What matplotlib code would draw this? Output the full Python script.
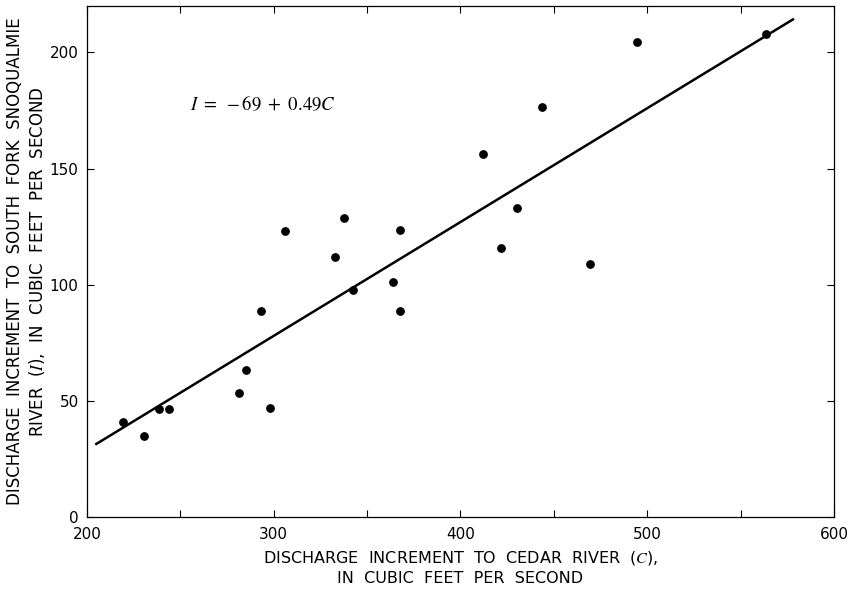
import matplotlib
matplotlib.use("Agg")
import matplotlib.pyplot as plt
import numpy as np

# Datos
cedar = [219.5, 230.7, 238.6, 243.9, 281.2, 285.3, 293.4, 297.8, 306.2, 332.8, 337.7,
         342.5, 363.9, 367.6, 367.6, 412.2, 421.6, 430.3, 443.7, 469.6, 494.6, 563.7]
snoqualmie = [40.7, 34.7, 46.5, 46.5, 53.3, 63.5, 88.6, 47.0, 123.3, 112.0, 128.6,
              97.8, 101.1, 123.6, 88.6, 156.4, 115.8, 133.2, 176.5, 109.1, 204.3, 207.9]

# Recta de regresion I = -69 + 0.49C
intercepto = -69
pendiente = 0.49
rango_recta = [205, 578]

plt.rcParams['mathtext.fontset'] = 'stix'
plt.rcParams['font.family'] = ['DejaVu Sans']

fig = plt.figure(figsize=(8.51, 5.90), dpi=100)
ax = fig.add_axes([0.1022, 0.1237, 0.8778, 0.8661])

xs = np.array(rango_recta)
ax.plot(xs, intercepto + pendiente * xs, color='black', linewidth=1.8)
ax.scatter(cedar, snoqualmie, s=28, color='black', zorder=3)

ax.set_xlim(200, 600)
ax.set_ylim(0, 220)
ax.set_xticks([200, 300, 400, 500, 600])
ax.set_xticks([250, 350, 450, 550], minor=True)
ax.set_yticks([0, 50, 100, 150, 200])
ax.tick_params(which='both', direction='in', top=True, right=True, length=5,
               width=0.8, labelsize=11)
ax.tick_params(axis='x', pad=7)
ax.tick_params(axis='y', pad=6)

for s in ax.spines.values():
    s.set_linewidth(0.9)

ax.text(255, 178, r'$I\ =\ -69\ +\ 0.49C$', fontsize=13.5, va='center', ha='left')

ax.set_xlabel('DISCHARGE  INCREMENT  TO  CEDAR  RIVER  ($C$),\nIN  CUBIC  FEET  PER  SECOND',
              fontsize=11.5, linespacing=1.4, labelpad=5)
ax.set_ylabel('DISCHARGE  INCREMENT  TO  SOUTH  FORK  SNOQUALMIE\nRIVER  ($I$),  IN  CUBIC  FEET  PER  SECOND',
              fontsize=12, linespacing=1.2, labelpad=2)

fig.savefig('out.png', dpi=100)
